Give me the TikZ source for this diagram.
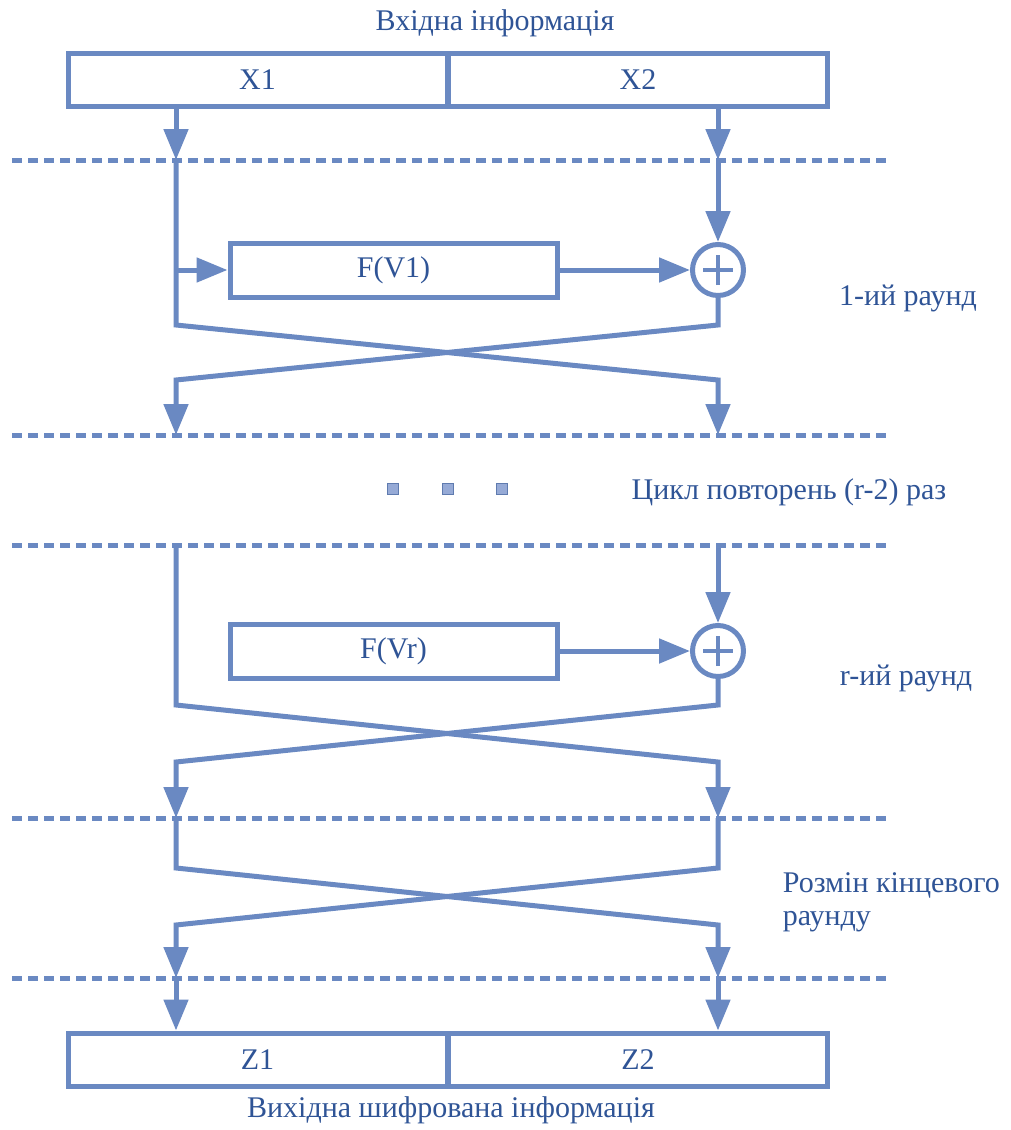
\documentclass[tikz,border=0pt]{standalone}
\usepackage{fontspec}
\setmainfont{Liberation Serif}
\usetikzlibrary{arrows.meta,positioning}
\definecolor{fslines}{RGB}{106,137,194}
\definecolor{fstext}{RGB}{47,84,150}
\definecolor{fsdots}{RGB}{150,170,214}

\begin{document}
\begin{tikzpicture}[x=1pt,y=-1pt,font=\fontsize{30}{33}\selectfont,
  color=fslines,text=fstext,line width=5pt,line join=miter,
  half/.style={draw,rectangle,minimum width=379pt,minimum height=53pt,inner sep=0pt},
  fbox/.style={draw,rectangle,minimum width=327pt,minimum height=54pt,inner sep=0pt},
  xor/.style={draw,circle,minimum size=51pt,inner sep=0pt,
    path picture={\draw[line width=3.5pt] (path picture bounding box.center) +(-15pt,0pt) -- +(15pt,0pt)
      (path picture bounding box.center) +(0pt,-15pt) -- +(0pt,15pt);}},
  arr/.style={-{Triangle[length=31pt,width=24pt]}},
  sep/.style={dash pattern=on 10pt off 6pt},
  dotsq/.style={draw=fslines!90!black,line width=1.2pt,fill=fsdots,minimum size=11pt,inner sep=0pt},
  lbl/.style={text=fstext,align=left}]
  \useasboundingbox (0,0) rectangle (1010,1130);

  % round separators
  \foreach \yy in {160,435,545,818,978}
    \draw[sep] (12,\yy) -- (889,\yy);

  % input and output blocks
  \node[half] (in1) at (257.5,79.5) {X1};
  \node[half] (in2) at (638,79.5) {X2};
  \node[lbl] (intitle) at (495,23) {Вхідна інформація};
  \node[half] (out1) at (257.5,1059.5) {Z1};
  \node[half] (out2) at (638,1059.5) {Z2};
  \node[lbl] (outtitle) at (451,1110) {Вихідна шифрована інформація};

  % round functions
  \node[fbox] (f1) at (393.5,270) {F(V1)};
  \node[xor] (x1) at (718,270) {};
  \node[fbox] (fr) at (393.5,651) {F(Vr)};
  \node[xor] (xr) at (718,651) {};

  % points on the separators
  \coordinate (a1) at (176,160);  \coordinate (b1) at (718,160);
  \coordinate (a2) at (176,435);  \coordinate (b2) at (718,435);
  \coordinate (a3) at (176,545);  \coordinate (b3) at (718,545);
  \coordinate (a4) at (176,818);  \coordinate (b4) at (718,818);
  \coordinate (a5) at (176,978);  \coordinate (b5) at (718,978);
  % corners of the swaps
  \coordinate (c1) at (176,325);  \coordinate (d1) at (718,325);
  \coordinate (e1l) at (176,380); \coordinate (e1r) at (718,380);
  \coordinate (c3) at (176,705);  \coordinate (d3) at (718,705);
  \coordinate (e3l) at (176,762); \coordinate (e3r) at (718,762);
  \coordinate (c4) at (176,868);  \coordinate (d4) at (718,868);
  \coordinate (e4l) at (176,925); \coordinate (e4r) at (718,925);

  % 1st round
  \draw[arr] (in1.south -| a1) -- (a1);
  \draw[arr] (in2.south -| b1) -- (b1);
  \draw[arr] (b1) -- (x1.north);
  \draw[arr] (f1.west -| a1) -- (f1.west);
  \draw[arr] (f1) -- (x1);
  \draw[arr] (a1) -- (c1) -- (e1r) -- (b2);
  \draw[arr] (x1.south) -- (d1) -- (e1l) -- (a2);

  % r-th round
  \draw[arr] (b3) -- (xr.north);
  \draw[arr] (fr) -- (xr);
  \draw[arr] (a3) -- (c3) -- (e3r) -- (b4);
  \draw[arr] (xr.south) -- (d3) -- (e3l) -- (a4);

  % final swap
  \draw[arr] (a4) -- (c4) -- (e4r) -- (b5);
  \draw[arr] (b4) -- (d4) -- (e4l) -- (a5);
  \draw[arr] (a5) -- (a5 |- out1.north);
  \draw[arr] (b5) -- (b5 |- out2.north);

  % repeated rounds
  \foreach \xx [count=\i] in {393,448,502}
    \node[dotsq] (dot\i) at (\xx,489) {};

  \node[lbl] (lab1) at (908,298) {1-ий раунд};
  \node[lbl] (labcyc) at (789,492) {Цикл повторень (r-2) раз};
  \node[lbl] (labr) at (906,678) {r-ий раунд};
  \node[lbl,anchor=west] (labswap) at (777,902) {Розмін кінцевого\\раунду};
\end{tikzpicture}
\end{document}
